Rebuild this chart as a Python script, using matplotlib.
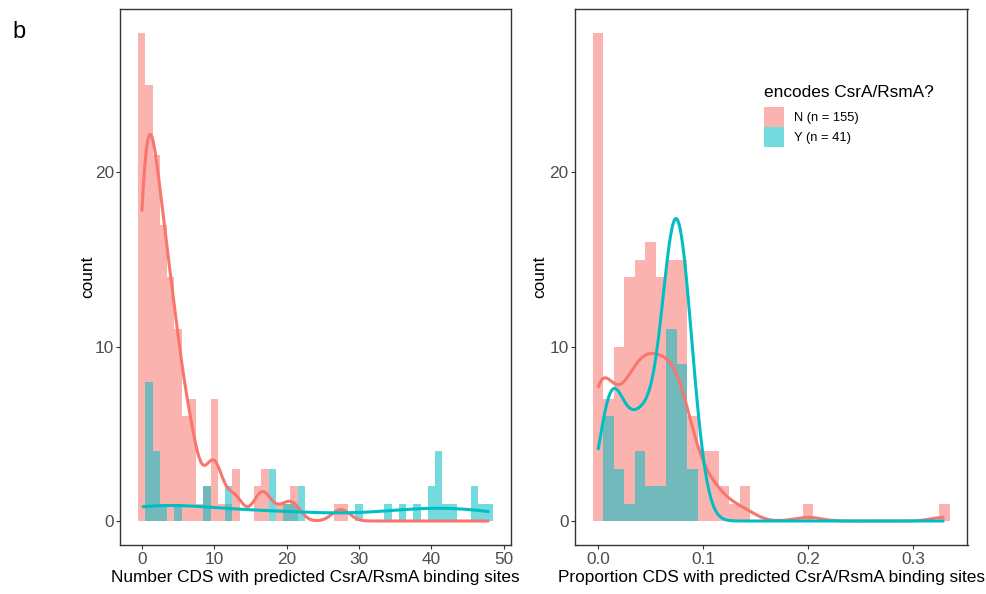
import numpy as np
import matplotlib
matplotlib.use("Agg")
import matplotlib.pyplot as plt
from matplotlib.patches import Patch

plt.rcParams['font.family'] = ['Liberation Sans', 'DejaVu Sans']

# ---------------- data ----------------
# Left panel: number of CDS with predicted binding sites (binwidth 1)
num_bin_centers = list(range(49))
num_counts_N = [28, 25, 21, 17, 14, 11, 6, 7, 1, 2, 7, 1, 1, 3, 0, 0, 2, 3, 0, 1,
                1, 2, 0, 0, 0, 0, 0, 1, 1, 0, 0, 0, 0, 0, 0, 0, 0, 0, 0, 0,
                0, 0, 0, 0, 0, 0, 0, 0, 0]
num_counts_Y = [0, 8, 4, 1, 0, 1, 0, 0, 0, 2, 0, 0, 2, 0, 0, 0, 0, 0, 3, 0,
                1, 1, 2, 0, 0, 0, 0, 0, 0, 0, 1, 0, 0, 0, 1, 0, 1, 0, 1, 0,
                2, 4, 1, 1, 0, 0, 2, 1, 1]
num_binwidth = 1.0

# Right panel: proportion of CDS with predicted binding sites (binwidth 0.01)
prop_bin_centers = [round(0.01 * i, 2) for i in range(34)]
prop_counts_N = [28, 7, 10, 14, 15, 16, 14, 15, 15, 6, 4, 4, 2, 1, 2, 0, 0, 0, 0, 0,
                 1, 0, 0, 0, 0, 0, 0, 0, 0, 0, 0, 0, 0, 1]
prop_counts_Y = [0, 6, 3, 1, 4, 2, 2, 11, 9, 3, 0, 0, 0, 0, 0, 0, 0, 0, 0, 0,
                 0, 0, 0, 0, 0, 0, 0, 0, 0, 0, 0, 0, 0, 0]
prop_binwidth = 0.01

groups = ["N", "Y"]
colors = {"N": "#F8766D", "Y": "#00BFC4"}

x_titles = ["Number CDS with predicted CsrA/RsmA binding sites",
            "Proportion CDS with predicted CsrA/RsmA binding sites"]
x_ticks = [[0, 10, 20, 30, 40, 50], [0.0, 0.1, 0.2, 0.3]]
x_ticklabels = [["0", "10", "20", "30", "40", "50"], ["0.0", "0.1", "0.2", "0.3"]]
y_ticks = [0, 10, 20]
legend_title = "encodes CsrA/RsmA?"


def bw_nrd0(x):
    sd = np.std(x, ddof=1)
    q75, q25 = np.percentile(x, [75, 25])
    lo = min(sd, (q75 - q25) / 1.34)
    return 0.9 * lo * len(x) ** -0.2


def kde(x, grid):
    bw = bw_nrd0(x)
    z = (grid[:, None] - x[None, :]) / bw
    return np.exp(-0.5 * z ** 2).sum(1) / (len(x) * bw * np.sqrt(2 * np.pi))


W, H = 987, 594
fig = plt.figure(figsize=(W / 100, H / 100), dpi=100)


def ax_rect(x0, x1, ytop, ybot):
    return [x0 / W, 1 - ybot / H, (x1 - x0) / W, (ybot - ytop) / H]


axL = fig.add_axes(ax_rect(120.5, 510.7, 8.6, 545.4))
axR = fig.add_axes(ax_rect(575.0, 967.5, 8.6, 545.4))

panels = [
    (axL, np.array(num_bin_centers, float), {"N": num_counts_N, "Y": num_counts_Y}, num_binwidth, True),
    (axR, np.array(prop_bin_centers, float), {"N": prop_counts_N, "Y": prop_counts_Y}, prop_binwidth, False),
]

ymax = max(max(num_counts_N), max(num_counts_Y), max(prop_counts_N), max(prop_counts_Y))

for i, (ax, centers, counts, bwid, count_scale) in enumerate(panels):
    # histograms
    for g in groups:
        ax.bar(centers, counts[g], width=bwid, color=colors[g], alpha=0.55,
               linewidth=0, align='center', zorder=2)
    # densities
    all_vals = np.concatenate([np.repeat(centers, counts[g]) for g in groups])
    grid = np.linspace(all_vals.min(), all_vals.max(), 512)
    for g in groups:
        vals = np.repeat(centers, counts[g])
        d = kde(vals, grid)
        if count_scale:
            d = d * len(vals)
        ax.plot(grid, d, color=colors[g], lw=2.2, zorder=3, solid_capstyle='butt')

    lo = centers.min() - bwid / 2
    hi = centers.max() + bwid / 2
    pad = 0.05 * (hi - lo)
    ax.set_xlim(lo - pad, hi + pad)
    ax.set_ylim(-0.05 * ymax, ymax * 1.05)

    ax.set_xticks(x_ticks[i])
    ax.set_xticklabels(x_ticklabels[i])
    ax.set_yticks(y_ticks)
    ax.tick_params(direction='out', length=2.75, width=0.8, color='#333333',
                   labelcolor='#4D4D4D', labelsize=12.4, pad=2)
    for s in ax.spines.values():
        s.set_color('#333333')
        s.set_linewidth(1.0)
    ax.set_facecolor('white')

    ax.set_xlabel(x_titles[i], fontsize=12.4, color='black', va='center')
    ax.xaxis.set_label_coords(0.5, -0.0589)
    ax.set_ylabel("count", fontsize=12.4, color='black', va='center')

axL.yaxis.set_label_coords((88 - 120.5) / (510.7 - 120.5), 0.5)
axR.yaxis.set_label_coords((540 - 575.0) / (967.5 - 575.0), 0.5)

# legend
handles = [Patch(facecolor=colors[g], alpha=0.55, linewidth=0) for g in groups]
labels = [f"N (n = {sum(num_counts_N)})", f"Y (n = {sum(num_counts_Y)})"]
leg = axR.legend(handles, labels, title=legend_title, loc='upper left',
                 bbox_to_anchor=(764 / W, 1 - 85 / H), bbox_transform=fig.transFigure,
                 frameon=False, fontsize=9.3, title_fontsize=12.4,
                 handlelength=1.55, handleheight=2.0, labelspacing=0.0,
                 handletextpad=0.75, borderpad=0, borderaxespad=0, alignment='left')
try:
    leg._legend_box.sep = 5
except Exception:
    pass

fig.text(12 / W, 1 - 38 / H, "b", fontsize=17, color='black', ha='left', va='baseline')

fig.savefig('out.png', dpi=100)
